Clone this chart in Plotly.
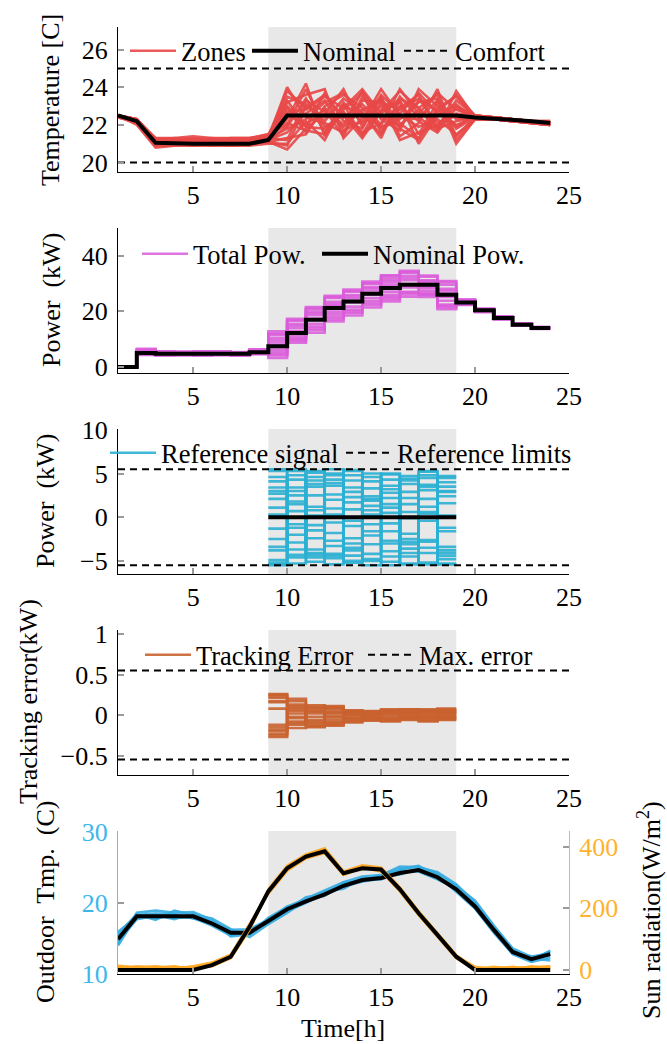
import plotly.graph_objects as go

# ---------------- data ----------------
hours = list(range(1, 25))
ref_hours = list(range(9, 20))

comfort_low = 20
comfort_high = 25
nominal_temp = [22.5, 22.2, 21.05, 21.0, 21.0, 21.0, 21.0, 21.0, 21.2, 22.5, 22.5, 22.5,
                22.5, 22.5, 22.5, 22.5, 22.5, 22.5, 22.5, 22.4, 22.35, 22.3, 22.2, 22.1]
zone_temps = [
    [22.5, 22.3, 21.2, 21.1, 21.2, 21.1, 21.1, 21.2, 21.4, 23.8, 22.9, 23.6, 22.4, 23.1, 22.0, 23.9, 22.6, 23.7, 22.8, 22.5, 22.4, 22.3, 22.2, 22.1],
    [22.5, 22.1, 20.9, 21.0, 20.9, 21.0, 20.9, 21.0, 21.1, 20.7, 21.8, 22.6, 23.9, 21.9, 23.4, 22.1, 21.3, 22.9, 23.5, 22.4, 22.3, 22.3, 22.2, 22.0],
    [22.5, 22.2, 21.0, 21.1, 21.0, 21.0, 21.1, 21.0, 21.3, 22.3, 24.2, 21.4, 22.8, 23.7, 21.6, 22.9, 23.6, 21.8, 22.2, 22.4, 22.4, 22.3, 22.2, 22.1],
    [22.4, 22.2, 21.3, 21.3, 21.4, 21.3, 21.3, 21.3, 21.5, 23.2, 23.6, 23.9, 21.3, 22.4, 23.5, 21.4, 22.1, 23.9, 21.2, 22.3, 22.3, 22.2, 22.1, 22.0],
    [22.5, 22.0, 20.8, 20.9, 20.9, 20.9, 20.9, 20.9, 21.0, 21.0, 22.2, 21.2, 23.1, 21.4, 22.8, 23.2, 21.0, 22.5, 23.1, 22.3, 22.3, 22.2, 22.1, 22.0],
    [22.5, 22.3, 21.1, 21.2, 21.1, 21.2, 21.2, 21.1, 21.2, 22.9, 21.6, 22.9, 22.0, 23.8, 22.3, 21.7, 23.9, 23.0, 21.9, 22.5, 22.4, 22.3, 22.2, 22.2],
    [22.5, 22.2, 21.2, 21.1, 21.2, 21.2, 21.1, 21.2, 21.4, 23.5, 23.1, 22.2, 23.4, 22.7, 21.3, 23.5, 22.4, 21.7, 23.8, 22.4, 22.4, 22.3, 22.2, 22.1],
    [22.5, 22.1, 21.0, 21.0, 21.0, 21.1, 21.0, 21.1, 21.2, 21.6, 22.6, 23.3, 21.7, 22.2, 23.9, 22.5, 21.9, 22.3, 21.5, 22.3, 22.3, 22.2, 22.2, 22.0],
    [22.5, 22.3, 21.3, 21.2, 21.3, 21.2, 21.3, 21.3, 21.5, 22.0, 23.9, 21.9, 22.5, 21.3, 22.7, 23.8, 22.9, 21.9, 22.6, 22.5, 22.4, 22.3, 22.2, 22.1],
    [22.5, 22.2, 20.9, 21.0, 21.0, 20.9, 21.0, 21.0, 21.1, 21.3, 21.5, 23.0, 23.6, 22.9, 21.8, 22.3, 23.2, 23.4, 21.0, 22.3, 22.3, 22.2, 22.1, 22.0],
    [22.5, 22.3, 21.1, 21.1, 21.1, 21.0, 21.1, 21.1, 21.3, 24.0, 22.4, 22.1, 21.6, 23.3, 23.2, 21.2, 21.6, 22.0, 23.0, 22.5, 22.4, 22.3, 22.2, 22.1],
    [22.4, 22.2, 21.2, 21.2, 21.2, 21.3, 21.2, 21.2, 21.4, 22.6, 21.9, 23.7, 22.2, 21.8, 23.6, 22.6, 23.7, 22.6, 22.4, 22.4, 22.3, 22.3, 22.2, 22.1],
    [22.5, 22.1, 21.0, 21.0, 21.0, 21.0, 21.0, 21.0, 21.2, 21.9, 23.4, 21.6, 23.0, 22.6, 21.5, 23.3, 21.5, 23.2, 21.8, 22.4, 22.3, 22.2, 22.1, 22.0],
    [22.5, 22.2, 21.1, 21.1, 21.2, 21.1, 21.1, 21.1, 21.3, 23.0, 22.0, 22.8, 21.4, 23.5, 22.4, 22.0, 22.8, 21.8, 23.3, 22.5, 22.4, 22.3, 22.2, 22.2],
    [22.5, 22.3, 21.2, 21.3, 21.2, 21.2, 21.2, 21.2, 21.4, 22.1, 21.7, 21.5, 23.2, 22.1, 23.0, 21.9, 23.3, 22.8, 22.0, 22.4, 22.4, 22.3, 22.2, 22.1],
    [22.5, 22.1, 20.9, 20.9, 21.0, 21.0, 20.9, 21.0, 21.1, 20.9, 23.0, 22.4, 22.7, 21.6, 22.1, 23.0, 22.2, 21.6, 22.9, 22.3, 22.3, 22.2, 22.1, 22.0],
    [22.5, 22.2, 21.1, 21.0, 21.1, 21.1, 21.0, 21.1, 21.2, 22.7, 22.8, 23.5, 22.9, 23.9, 22.6, 23.4, 22.9, 23.6, 21.4, 22.4, 22.3, 22.2, 22.2, 22.1],
    [22.5, 22.3, 21.2, 21.2, 21.1, 21.2, 21.2, 21.2, 21.3, 21.2, 23.3, 22.7, 21.9, 22.8, 23.3, 21.8, 21.2, 22.7, 23.6, 22.5, 22.4, 22.3, 22.2, 22.1],
    [22.4, 22.1, 21.0, 21.1, 21.0, 21.0, 21.1, 21.0, 21.2, 23.3, 21.9, 21.8, 22.6, 21.5, 23.2, 22.8, 23.4, 22.1, 22.5, 22.3, 22.3, 22.2, 22.1, 22.0],
    [22.5, 22.2, 21.1, 21.2, 21.2, 21.1, 21.2, 21.1, 21.3, 21.8, 22.3, 23.2, 23.7, 22.5, 21.9, 22.4, 22.3, 23.3, 22.3, 22.4, 22.4, 22.3, 22.2, 22.1],
]

nominal_power = [0, 5.0, 4.7, 4.7, 4.7, 4.7, 4.7, 5.3, 7.4, 12.2, 17.0, 21.2, 23.5, 26.3, 28.4,
                 29.6, 29.6, 26.0, 23.2, 20.4, 17.6, 15.2, 14.0, 14.0]
total_powers = [
    [0, 6.5, 5.5, 5.2, 5.6, 5.4, 5.0, 6.2, 12.8, 17.3, 21.5, 25.6, 27.8, 30.7, 32.8, 34.6, 32.5, 30.5, 24.3, 20.9, 18.2, 15.7, 14.3, 14.3],
    [0, 4.3, 4.1, 4.3, 4.0, 4.2, 4.0, 4.6, 3.2, 8.7, 12.3, 16.4, 18.5, 21.4, 23.6, 25.3, 25.2, 20.8, 22.3, 19.7, 17.1, 14.9, 13.7, 13.7],
    [0, 5.6, 5.0, 4.9, 5.2, 5.1, 4.8, 5.8, 10.5, 15.4, 19.8, 23.4, 25.9, 28.7, 31.4, 32.8, 31.2, 28.1, 23.6, 20.6, 17.9, 15.4, 14.1, 14.1],
    [0, 4.8, 4.4, 4.5, 4.4, 4.5, 4.3, 5.0, 5.3, 10.2, 14.5, 18.9, 20.6, 23.8, 25.8, 27.0, 27.4, 22.4, 22.8, 20.1, 17.4, 15.1, 13.9, 13.9],
    [0, 6.0, 5.3, 5.5, 5.3, 5.0, 5.2, 6.0, 11.6, 16.5, 20.7, 24.8, 27.1, 29.9, 32.2, 33.9, 30.2, 29.6, 24.0, 20.8, 18.0, 15.6, 14.2, 14.2],
    [0, 4.5, 4.2, 4.1, 4.3, 4.4, 4.4, 4.8, 4.1, 9.3, 13.2, 17.2, 19.4, 22.3, 24.5, 26.2, 26.1, 21.5, 22.6, 19.9, 17.2, 15.0, 13.8, 13.8],
    [0, 5.3, 4.8, 4.7, 4.8, 4.7, 4.7, 5.4, 8.8, 13.9, 18.6, 22.6, 24.6, 27.5, 29.6, 31.2, 29.0, 26.8, 23.3, 20.5, 17.8, 15.3, 14.0, 14.0],
    [0, 5.8, 5.2, 5.0, 5.1, 5.3, 5.1, 5.6, 9.6, 14.8, 19.3, 22.0, 25.3, 28.3, 30.6, 32.0, 30.8, 27.6, 23.9, 20.7, 17.9, 15.5, 14.1, 14.1],
    [0, 4.6, 4.5, 4.6, 4.5, 4.3, 4.5, 4.9, 6.2, 11.0, 15.5, 19.9, 21.7, 24.8, 26.9, 28.6, 26.6, 23.8, 22.9, 20.2, 17.5, 15.1, 13.9, 13.9],
    [0, 5.1, 4.6, 4.8, 4.9, 4.9, 4.6, 5.2, 7.9, 12.8, 17.4, 21.8, 23.2, 26.0, 28.0, 29.8, 28.3, 25.2, 23.1, 20.3, 17.6, 15.2, 14.0, 14.0],
    [0, 6.2, 5.6, 5.3, 5.5, 5.6, 5.3, 6.3, 12.0, 16.9, 21.2, 25.2, 27.4, 30.2, 33.0, 34.2, 32.9, 30.9, 24.1, 20.9, 18.1, 15.7, 14.3, 14.3],
    [0, 4.7, 4.3, 4.4, 4.6, 4.6, 4.2, 4.7, 4.6, 9.9, 13.8, 18.0, 20.0, 23.0, 25.1, 26.8, 25.9, 22.0, 22.5, 20.0, 17.3, 15.0, 13.8, 13.8],
]

ref_limit = 5.5
ref_nominal = [0, 0, 0, 0, 0, 0, 0, 0, 0, 0, 0]
ref_signals = [
    [5.3, -4.3, 3.8, 5.5, -5.2, 2.1, 4.9, -5.4, 5.2, -1.2, -1.2],
    [-5.4, 5.3, -4.1, 3.6, 4.8, -5.5, -5.1, 4.7, -2.8, 4.5, 4.5],
    [4.1, 3.4, 5.1, -4.4, -3.5, 1.3, 3.2, -3.6, 0.6, -5.3, -5.3],
    [3.0, -0.8, -4.3, 2.6, 5.4, -5.0, 1.5, 4.4, -5.2, 2.9, 2.9],
    [-3.4, 1.5, 4.2, -0.6, -1.0, 4.1, -4.5, -2.5, 3.7, 1.6, 1.6],
    [2.7, -5.3, 0.8, 4.8, 2.3, -3.1, -2.7, 0.6, 4.8, -4.4, -4.4],
    [-4.9, 4.3, -1.5, -4.7, 3.4, 1.9, 4.3, -5.3, -0.4, 4.7, 4.7],
    [-1.3, 3.0, 5.3, 1.0, -2.4, -4.2, -0.7, 3.8, 2.1, -3.8, -3.8],
    [0.3, -2.9, 2.5, -3.3, 0.9, 0.3, 2.8, -1.9, -4.1, 3.0, 3.0],
    [5.5, 5.5, -4.6, 3.9, -4.4, 5.0, -3.0, 2.2, 1.2, -5.4, -5.4],
    [-5.2, -4.6, 1.2, -2.7, 4.2, -2.1, 0.5, -4.1, 4.5, -3.4, -3.4],
    [3.4, 1.8, -3.7, 0.3, -0.4, 3.3, 5.0, -3.1, -2.6, 0.2, 0.2],
    [-3.8, -2.0, 3.5, 5.0, 1.7, -1.6, -3.9, 2.9, -3.5, 2.4, 2.4],
    [4.6, 0.7, -0.9, -1.8, -5.0, 4.6, 2.2, -4.5, 3.1, -4.8, -4.8],
    [-2.5, -3.7, 4.6, -5.4, 2.9, -4.8, -5.5, 1.5, 5.3, -1.6, -1.6],
    [1.1, 2.5, -2.4, 2.0, -3.8, 0.8, 3.6, -0.1, -5.4, 4.0, 4.0],
    [-5.5, -1.2, 0.2, -4.2, 5.3, -0.8, -1.6, 4.2, 0.4, -4.1, -4.1],
    [2.1, 4.8, -5.1, 4.3, -3.0, 2.4, 1.1, -2.8, 3.5, 3.5, 3.5],
]

max_error = 0.55
tracking_errors = [
    [0.25, 0.20, 0.12, 0.10, 0.05, 0.03, 0.06, 0.07, 0.05, 0.06, 0.06],
    [-0.27, -0.16, -0.14, -0.12, -0.08, -0.06, -0.07, -0.04, -0.07, -0.05, -0.05],
    [0.17, 0.09, 0.05, 0.08, 0.02, 0.04, 0.02, 0.05, -0.02, 0.07, 0.07],
    [-0.15, 0.02, -0.10, -0.06, -0.04, 0.01, -0.05, 0.03, -0.06, 0.01, 0.01],
    [0.08, -0.08, 0.10, 0.02, 0.06, -0.04, 0.05, -0.03, 0.04, -0.04, -0.04],
    [-0.20, -0.04, -0.06, -0.13, 0.00, 0.05, -0.02, 0.07, 0.02, 0.04, 0.04],
    [0.23, 0.13, -0.02, 0.05, -0.09, -0.02, 0.04, -0.06, 0.06, -0.02, -0.02],
    [-0.23, -0.12, 0.07, -0.03, 0.04, -0.05, -0.08, 0.01, -0.04, 0.03, 0.03],
    [0.16, 0.05, -0.15, 0.11, -0.06, 0.02, 0.06, -0.01, 0.07, -0.06, -0.06],
    [-0.12, -0.10, 0.02, -0.09, 0.03, -0.03, 0.00, 0.04, -0.08, 0.05, 0.05],
    [0.21, 0.17, -0.08, -0.01, -0.02, 0.04, -0.04, -0.05, 0.03, -0.03, -0.03],
    [-0.18, 0.07, 0.04, 0.09, 0.05, -0.07, 0.03, 0.02, -0.01, 0.08, 0.08],
    [0.26, -0.02, -0.12, -0.10, -0.05, 0.00, -0.06, 0.06, 0.01, -0.01, -0.01],
    [-0.25, 0.11, 0.09, 0.03, 0.01, -0.01, 0.07, -0.02, -0.03, 0.02, 0.02],
]

nominal_outdoor = [14.9, 18.1, 18.1, 18.1, 18.1, 17.1, 15.8, 15.8, 17.4, 19.1, 20.2, 21.2,
                   22.4, 23.2, 23.5, 24.2, 24.6, 23.6, 21.9, 19.5, 16.2, 13.1, 12.1, 12.8]
outdoor_temps = [
    [14.2, 18.6, 18.9, 18.6, 18.7, 17.6, 15.3, 15.6, 17.9, 19.4, 20.6, 21.8, 22.9, 23.7, 23.9, 25.1, 25.0, 24.3, 22.6, 20.0, 16.6, 13.4, 11.8, 13.3],
    [15.6, 18.4, 17.6, 18.9, 18.3, 17.8, 16.3, 15.2, 17.0, 18.6, 20.4, 21.0, 22.9, 23.0, 23.9, 24.7, 25.1, 24.1, 22.3, 19.9, 16.5, 13.3, 12.0, 13.2],
    [15.9, 18.0, 18.3, 17.7, 18.5, 17.4, 16.2, 16.3, 17.6, 19.5, 20.3, 21.6, 22.0, 23.5, 23.3, 24.5, 24.4, 23.3, 22.0, 19.3, 16.0, 12.9, 12.5, 12.6],
    [14.5, 17.7, 18.2, 17.9, 17.9, 16.8, 15.4, 16.1, 17.2, 18.8, 20.0, 21.4, 22.7, 23.1, 23.7, 24.0, 24.8, 23.9, 21.6, 19.2, 15.8, 12.8, 11.7, 12.3],
    [15.3, 18.3, 18.5, 18.4, 17.8, 17.2, 16.0, 15.5, 17.7, 19.0, 20.8, 21.2, 22.5, 23.4, 23.6, 24.8, 25.2, 23.5, 22.4, 20.3, 16.8, 13.6, 12.4, 13.0],
    [14.0, 18.2, 17.8, 18.3, 18.0, 17.0, 15.6, 15.8, 17.3, 19.2, 20.1, 21.5, 22.3, 23.0, 23.4, 24.3, 24.6, 23.8, 21.8, 19.7, 16.4, 13.0, 12.2, 11.9],
]

nominal_sun = [0, 0, 0, 0, 0, 16, 43, 140, 255, 330, 368, 385, 314, 330, 326, 262, 184, 114, 43, 0, 0, 0, 0, 0]
sun_radiations = [
    [10, 8, 12, 6, 10, 20, 45, 135, 262, 338, 375, 395, 320, 340, 333, 268, 190, 120, 48, 6, 2, 8, 4, 10],
    [4, 2, 6, 12, 2, 22, 48, 145, 250, 325, 365, 382, 310, 335, 322, 258, 180, 110, 40, 3, 10, 4, 8, 6],
    [14, 10, 4, 8, 6, 12, 38, 130, 258, 335, 372, 390, 318, 328, 330, 265, 188, 117, 46, 8, 4, 2, 12, 4],
    [6, 6, 10, 4, 12, 24, 50, 150, 248, 322, 362, 380, 308, 332, 320, 255, 178, 108, 38, 2, 6, 10, 2, 8],
    [2, 12, 8, 10, 4, 18, 42, 138, 256, 332, 370, 388, 316, 336, 328, 264, 186, 116, 44, 10, 2, 6, 10, 12],
]

x_range = [1, 25]
x_ticks = [5, 10, 15, 20, 25]
shade_span = [9, 19]

# ---------------- style ----------------
FONT = "Liberation Serif"
FS = 26
LFS = 26.5
W, H = 667, 1044
ML, MR = 118, 98
PW = W - ML - MR

RED = "#E84848"
MAGENTA = "#DB5CDB"
CYAN = "#2BB0D4"
ORANGE_T = "#C9622F"
BLUE = "#36ADE2"
SUN = "#FFA826"
BLUE_AX = "#5EC3EE"
SUN_AX = "#FFB22E"
SHADE = "#E8E8E8"
TICKC = "#9A9A9A"


def px_x(p):
    return (p - ML) / PW


def px_y(p):
    return 1 - p / H


def cx(p):
    return p / W


panel_px = [(27, 172), (228, 373), (429, 574), (630, 775), (831, 974)]
domains = [[px_y(b), px_y(t)] for t, b in panel_px]

# legend boxes: (legend id, sample start px, centre y px)
legend_pos = {
    "legend": (130, 51), "legend2": (252, 51), "legend3": (404, 51),
    "legend4": (142, 254), "legend5": (322, 254),
    "legend6": (110, 453), "legend7": (346, 453),
    "legend8": (145, 655), "legend9": (368, 655),
}

fig = go.Figure()

# Panel 1
for i, z in enumerate(zone_temps):
    fig.add_trace(go.Scatter(x=hours, y=z, mode="lines", line=dict(color=RED, width=2.6),
                             opacity=0.9, name="Zones", showlegend=(i == 0), legend="legend",
                             xaxis="x", yaxis="y"))
fig.add_trace(go.Scatter(x=hours, y=nominal_temp, mode="lines", line=dict(color="black", width=4),
                         name="Nominal", legend="legend2", xaxis="x", yaxis="y"))
for i, v in enumerate([comfort_low, comfort_high]):
    fig.add_trace(go.Scatter(x=x_range, y=[v, v], mode="lines",
                             line=dict(color="black", width=2, dash="7px,5px"),
                             name="Comfort", showlegend=(i == 0), legend="legend3",
                             xaxis="x", yaxis="y"))

# Panel 2
for i, p in enumerate(total_powers):
    fig.add_trace(go.Scatter(x=hours, y=p, mode="lines", line=dict(color=MAGENTA, width=2.6, shape="hv"),
                             opacity=0.85, name="Total Pow.", showlegend=(i == 0), legend="legend4",
                             xaxis="x2", yaxis="y2"))
fig.add_trace(go.Scatter(x=hours, y=nominal_power, mode="lines",
                         line=dict(color="black", width=4, shape="hv"),
                         name="Nominal Pow.", legend="legend5", xaxis="x2", yaxis="y2"))

# Panel 3
for i, r in enumerate(ref_signals):
    fig.add_trace(go.Scatter(x=ref_hours, y=r, mode="lines", line=dict(color=CYAN, width=2.6, shape="hv"),
                             opacity=0.9, name="Reference signal", showlegend=(i == 0),
                             legend="legend6", xaxis="x3", yaxis="y3"))
fig.add_trace(go.Scatter(x=ref_hours, y=ref_nominal, mode="lines", line=dict(color="black", width=4),
                         showlegend=False, xaxis="x3", yaxis="y3"))
for i, v in enumerate([ref_limit, -ref_limit]):
    fig.add_trace(go.Scatter(x=x_range, y=[v, v], mode="lines",
                             line=dict(color="black", width=2, dash="7px,5px"),
                             name="Reference limits", showlegend=(i == 0), legend="legend7",
                             xaxis="x3", yaxis="y3"))

# Panel 4
for i, e in enumerate(tracking_errors):
    fig.add_trace(go.Scatter(x=ref_hours, y=e, mode="lines", line=dict(color=ORANGE_T, width=2.6, shape="hv"),
                             opacity=0.9, name="Tracking Error", showlegend=(i == 0),
                             legend="legend8", xaxis="x4", yaxis="y4"))
for i, v in enumerate([max_error, -max_error]):
    fig.add_trace(go.Scatter(x=x_range, y=[v, v], mode="lines",
                             line=dict(color="black", width=2, dash="7px,5px"),
                             name="Max. error", showlegend=(i == 0), legend="legend9",
                             xaxis="x4", yaxis="y4"))

# Panel 5
for t in outdoor_temps:
    fig.add_trace(go.Scatter(x=hours, y=t, mode="lines", line=dict(color=BLUE, width=2.6),
                             opacity=0.9, showlegend=False, xaxis="x5", yaxis="y5"))
fig.add_trace(go.Scatter(x=hours, y=nominal_outdoor, mode="lines", line=dict(color="black", width=4),
                         showlegend=False, xaxis="x5", yaxis="y5"))
for s in sun_radiations:
    fig.add_trace(go.Scatter(x=hours, y=s, mode="lines", line=dict(color=SUN, width=2.6),
                             opacity=0.9, showlegend=False, xaxis="x5", yaxis="y6"))
fig.add_trace(go.Scatter(x=hours, y=nominal_sun, mode="lines", line=dict(color="black", width=4),
                         showlegend=False, xaxis="x5", yaxis="y6"))

# ---------------- axes ----------------
y_ranges = [[19.5, 27.2], [-2.2, 50], [-6.5, 10.1], [-0.74, 1.05], [10, 30.1]]
y_tickvals = [[20, 22, 24, 26], [0, 20, 40], [-5, 0, 5, 10], [-0.5, 0, 0.5, 1], [10, 20, 30]]
y_ticktext = [["20", "22", "24", "26"], ["0", "20", "40"], ["\u22125", "0", "5", "10"],
              ["\u22120.5", "0", "0.5", "1"], ["10", "20", "30"]]

layout = dict(
    width=W, height=H,
    margin=dict(l=ML, r=MR, t=0, b=0, autoexpand=False),
    paper_bgcolor="white", plot_bgcolor="rgba(0,0,0,0)",
    font=dict(family=FONT, size=FS, color="black"),
)

for k in range(5):
    sfx = "" if k == 0 else str(k + 1)
    layout["xaxis" + sfx] = dict(
        domain=[0, 1], range=x_range, anchor="y" + sfx, tickvals=x_ticks,
        ticks="inside", ticklen=6, tickcolor=TICKC, tickwidth=1.5,
        showline=True, linecolor="black", linewidth=1.2, showgrid=False, zeroline=False,
        tickfont=dict(family=FONT, size=FS, color="black"), automargin=False,
    )
    left_col = BLUE_AX if k == 4 else "black"
    tick_font_col = "#3DB7EA" if k == 4 else "black"
    layout["yaxis" + sfx] = dict(
        domain=domains[k], range=y_ranges[k], anchor="x" + sfx,
        tickvals=y_tickvals[k], ticktext=y_ticktext[k],
        ticks="inside", ticklen=6, tickcolor=TICKC, tickwidth=1.5,
        showline=True, linecolor=left_col, linewidth=1.2, showgrid=False, zeroline=False,
        tickfont=dict(family=FONT, size=FS, color=tick_font_col), ticklabelstandoff=4,
        automargin=False,
    )

layout["yaxis6"] = dict(
    overlaying="y5", side="right", anchor="x5", range=[-13, 451], tickvals=[0, 200, 400],
    ticks="inside", ticklen=6, tickcolor=TICKC, tickwidth=1.5,
    showline=True, linecolor=SUN_AX, linewidth=1.2, showgrid=False, zeroline=False,
    tickfont=dict(family=FONT, size=FS, color=SUN_AX), ticklabelstandoff=4, automargin=False,
)

legend_common = dict(orientation="h", xanchor="left", yanchor="middle", bgcolor="rgba(0,0,0,0)",
                     borderwidth=0, font=dict(family=FONT, size=LFS), tracegroupgap=0,
                     itemwidth=46, xref="container", yref="container")
for lid, (sx, sy) in legend_pos.items():
    layout[lid] = dict(legend_common, x=cx(sx - 5), y=px_y(sy))

shapes = []
for k in range(5):
    sfx = "" if k == 0 else str(k + 1)
    shapes.append(dict(type="rect", xref="x" + sfx, yref="y" + sfx + " domain",
                       x0=shade_span[0], x1=shade_span[1], y0=0, y1=1,
                       fillcolor=SHADE, line=dict(width=0), layer="below"))
layout["shapes"] = shapes

ann = []
def ytitle(text, xp, yp, angle=-90, size=FS):
    ann.append(dict(text=text, x=px_x(xp), y=px_y(yp), xref="paper", yref="paper",
                    showarrow=False, textangle=angle, xanchor="center", yanchor="middle",
                    font=dict(family=FONT, size=size, color="black")))

ytitle("Temperature [C]", 50, 100)
ytitle("Power  (kW)", 51, 300)
ytitle("Power  (kW)", 46, 501)
ytitle("Tracking error(kW)", 28, 702)
ytitle("Outdoor  Tmp.  (C)", 45, 902)
ytitle("Sun radiation(W/m<sup>2</sup>)", 649, 910)
ytitle("Time[h]", 343, 1028, angle=0)
layout["annotations"] = ann

fig.update_layout(**layout)
fig.write_html("out.html", config={"displayModeBar": False},
               post_script="document.body.style.margin='0px';")
